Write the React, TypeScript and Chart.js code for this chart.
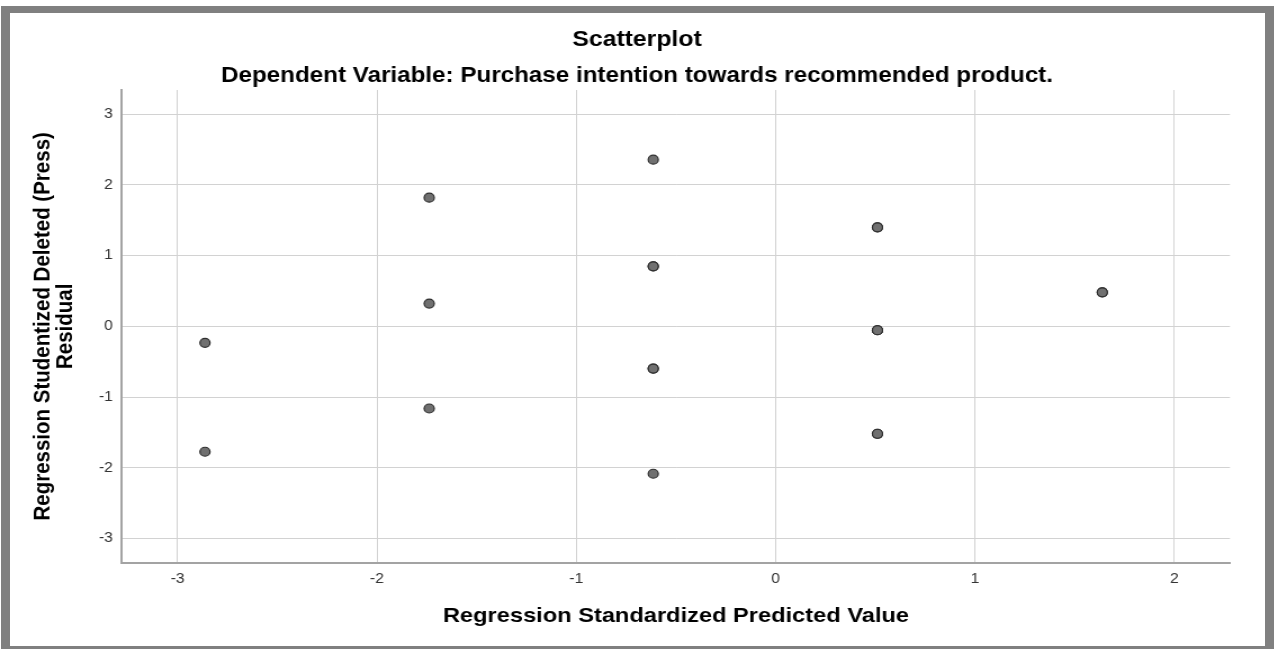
import React, { useEffect, useRef } from "react";
import { Chart, registerables } from "chart.js";

Chart.register(...registerables);

// ---- data ----
const predictedValue = [
  -2.863, -2.863,
  -1.738, -1.738, -1.738,
  -0.614, -0.614, -0.614, -0.614, -0.614, -0.614,
  0.511, 0.511, 0.511, 0.511, 0.511, 0.511, 0.511,
  1.639, 1.639,
];
const deletedResidual = [
  -0.233, -1.772,
  1.818, 0.322, -1.161,
  2.355, 0.848, 0.848, -0.596, -0.596, -2.083,
  1.399, -0.055, -0.055, -0.055, -1.518, -1.518, 1.399,
  0.481, 0.481,
];
const xTicks = [-3, -2, -1, 0, 1, 2];
const yTicks = [-3, -2, -1, 0, 1, 2, 3];
const xRange = [-3.2795, 2.2795];
const yRange = [-3.34, 3.34];

const chartTitle = "Scatterplot";
const chartSubtitle =
  "Dependent Variable: Purchase intention towards recommended product.";
const xAxisTitle = "Regression Standardized Predicted Value";
const yAxisTitle = ["Regression Studentized Deleted (Press)", "Residual"];

// ---- layout ----
const W = 1278;
const H = 649;
const STRETCH = 1.125; // the reference is slightly stretched horizontally
const CW = Math.round(W / STRETCH);
const FONT = "'Liberation Sans', Arial, Helvetica, sans-serif";

export default function App() {
  const ref = useRef<HTMLCanvasElement | null>(null);

  useEffect(() => {
    if (!ref.current) return;
    const points = predictedValue.map((x, i) => ({ x, y: deletedResidual[i] }));
    const chart = new Chart(ref.current, {
      type: "scatter",
      data: {
        datasets: [
          {
            data: points,
            pointRadius: 4.5,
            pointHoverRadius: 4.5,
            pointBackgroundColor: "#707070",
            pointBorderColor: "#2e2e2e",
            pointBorderWidth: 1.2,
          },
        ],
      },
      options: {
        responsive: false,
        animation: false,
        devicePixelRatio: 1,
        events: [],
        layout: { padding: { left: 12, right: 15.5, top: 0, bottom: 10 } },
        plugins: {
          legend: { display: false },
          tooltip: { enabled: false },
          title: {
            display: true,
            text: chartTitle,
            color: "#000",
            font: { family: FONT, size: 22, weight: "bold", lineHeight: 1.2 },
            padding: { top: 26.5, bottom: 0 },
          },
          subtitle: {
            display: true,
            text: chartSubtitle,
            color: "#000",
            font: { family: FONT, size: 21.5, weight: "bold", lineHeight: 1.2 },
            padding: { top: 10.6, bottom: 0.7 },
          },
        },
        scales: {
          x: {
            type: "linear",
            position: "bottom",
            min: xRange[0],
            max: xRange[1],
            afterBuildTicks: (s: any) => {
              s.ticks = xTicks.map((v) => ({ value: v }));
            },
            afterFit: (s: any) => {
              s.height = 76.3;
            },
            grid: { color: "#d2d2d2", lineWidth: 1, drawTicks: false },
            border: { color: "#a3a3a3", width: 2 },
            ticks: {
              padding: 8,
              color: "#333",
              font: { family: FONT, size: 14 },
              callback: (v: any) => String(v),
            },
            title: {
              display: true,
              text: xAxisTitle,
              color: "#000",
              font: { family: FONT, size: 21, weight: "bold", lineHeight: 1.2 },
              padding: { top: 0, bottom: 10.4 },
            },
          },
          y: {
            type: "linear",
            position: "left",
            min: yRange[0],
            max: yRange[1],
            afterBuildTicks: (s: any) => {
              s.ticks = yTicks.map((v) => ({ value: v }));
            },
            afterFit: (s: any) => {
              s.width = 96.4;
            },
            grid: { color: "#d2d2d2", lineWidth: 1, drawTicks: false },
            border: { color: "#a3a3a3", width: 2 },
            ticks: {
              padding: 8,
              color: "#333",
              font: { family: FONT, size: 14 },
              callback: (v: any) => String(v),
            },
            title: {
              display: true,
              text: yAxisTitle,
              color: "#000",
              font: { family: FONT, size: 20.5, weight: "bold", lineHeight: 0.98 },
              padding: { top: 16, bottom: 0 },
            },
          },
          yRight: {
            type: "linear",
            position: "right",
            display: true,
            min: yRange[0],
            max: yRange[1],
            afterFit: (s: any) => {
              s.width = 27.2;
            },
            grid: { display: false, drawTicks: false },
            border: { display: false },
            ticks: { display: false },
          },
        },
      },
    } as any);
    return () => chart.destroy();
  }, []);

  return (
    <div
      style={{
        position: "fixed",
        left: 0,
        top: 0,
        width: W,
        height: H,
        background: "#fff",
        overflow: "hidden",
      }}
    >
      <canvas
        ref={ref}
        width={CW}
        height={H}
        style={{ position: "absolute", left: 0, top: 0, width: W, height: H }}
      />
      <div
        style={{
          position: "absolute",
          left: 1,
          top: 6,
          width: 1273,
          height: 643,
          boxSizing: "border-box",
          borderStyle: "solid",
          borderColor: "#808080",
          borderLeftWidth: 9,
          borderTopWidth: 7,
          borderRightWidth: 9,
          borderBottomWidth: 3,
          pointerEvents: "none",
        }}
      />
    </div>
  );
}
